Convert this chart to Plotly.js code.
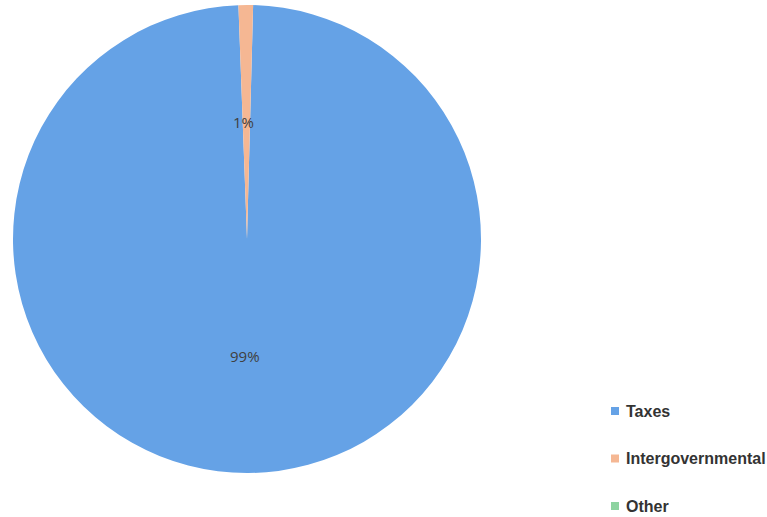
<!DOCTYPE html>
<html>
<head>
<meta charset="utf-8">
<script src="https://cdn.plot.ly/plotly-3.0.1.min.js"></script>
<style>
  html, body { margin: 0; padding: 0; background: #ffffff; }
  #chart { width: 767px; height: 517px; }
</style>
</head>
<body>
<div id="chart"></div>
<script>
// Revenue sources, share of total (%)
const categories = ['Taxes', 'Intergovernmental', 'Other'];
const shares = [99, 1, 0];
const sliceColors = ['#65a2e6', '#f5b793', '#8dd3a0'];

// Pie placement in paper coordinates
const W = 767, H = 517;
const pieDomain = { x: [13 / W, 481 / W], y: [1 - 473 / H, 1 - 5 / H] };
const rotationDeg = 1.5;

const pie = {
  type: 'pie',
  labels: categories,
  values: shares,
  sort: false,
  direction: 'clockwise',
  rotation: rotationDeg,
  marker: { colors: sliceColors, line: { width: 0 } },
  textinfo: 'none',
  hoverinfo: 'label+percent',
  domain: pieDomain,
  showlegend: false
};

// Percent labels at half radius along each slice's middle angle
const total = shares.reduce((a, b) => a + b, 0);
const cx = (pieDomain.x[0] + pieDomain.x[1]) / 2 * W;
const cy = (1 - (pieDomain.y[0] + pieDomain.y[1]) / 2) * H;
const radius = (pieDomain.x[1] - pieDomain.x[0]) * W / 2;
const annotations = [];
let cum = 0;
shares.forEach((v, i) => {
  if (v > 0) {
    const mid = rotationDeg + (cum + v / 2) / total * 360;
    const a = mid * Math.PI / 180;
    const px = cx - 3 + 0.5 * radius * Math.sin(a);
    const py = cy - 0.5 * radius * Math.cos(a);
    annotations.push({
      x: px / W, y: 1 - py / H, xref: 'paper', yref: 'paper',
      xanchor: 'center', yanchor: 'middle',
      text: Math.round(v / total * 100) + '%',
      showarrow: false,
      font: { family: 'Open Sans, Liberation Sans, sans-serif', size: 15, color: '#404040' }
    });
  }
  cum += v;
});

// Legend: square swatch plus bold label for each category
const legendX = 611, legendTextX = 624, legendY0 = 411, legendStep = 47.5, sw = 8;
const shapes = [];
categories.forEach((name, i) => {
  const y = legendY0 + i * legendStep;
  shapes.push({
    type: 'rect', xref: 'paper', yref: 'paper',
    x0: legendX / W, x1: (legendX + sw) / W,
    y0: 1 - (y + sw / 2) / H, y1: 1 - (y - sw / 2) / H,
    fillcolor: sliceColors[i], line: { width: 0 }
  });
  annotations.push({
    x: legendTextX / W, y: 1 - y / H, xref: 'paper', yref: 'paper',
    xanchor: 'left', yanchor: 'middle',
    text: '<b>' + name + '</b>',
    showarrow: false,
    font: { family: 'Liberation Sans, Arial, sans-serif', size: 16, color: '#333333' }
  });
});

const layout = {
  width: W, height: H,
  margin: { l: 0, r: 0, t: 0, b: 0 },
  paper_bgcolor: '#ffffff',
  plot_bgcolor: '#ffffff',
  showlegend: false,
  annotations: annotations,
  shapes: shapes
};

Plotly.newPlot('chart', [pie], layout, { displayModeBar: false, staticPlot: true });
</script>
</body>
</html>
